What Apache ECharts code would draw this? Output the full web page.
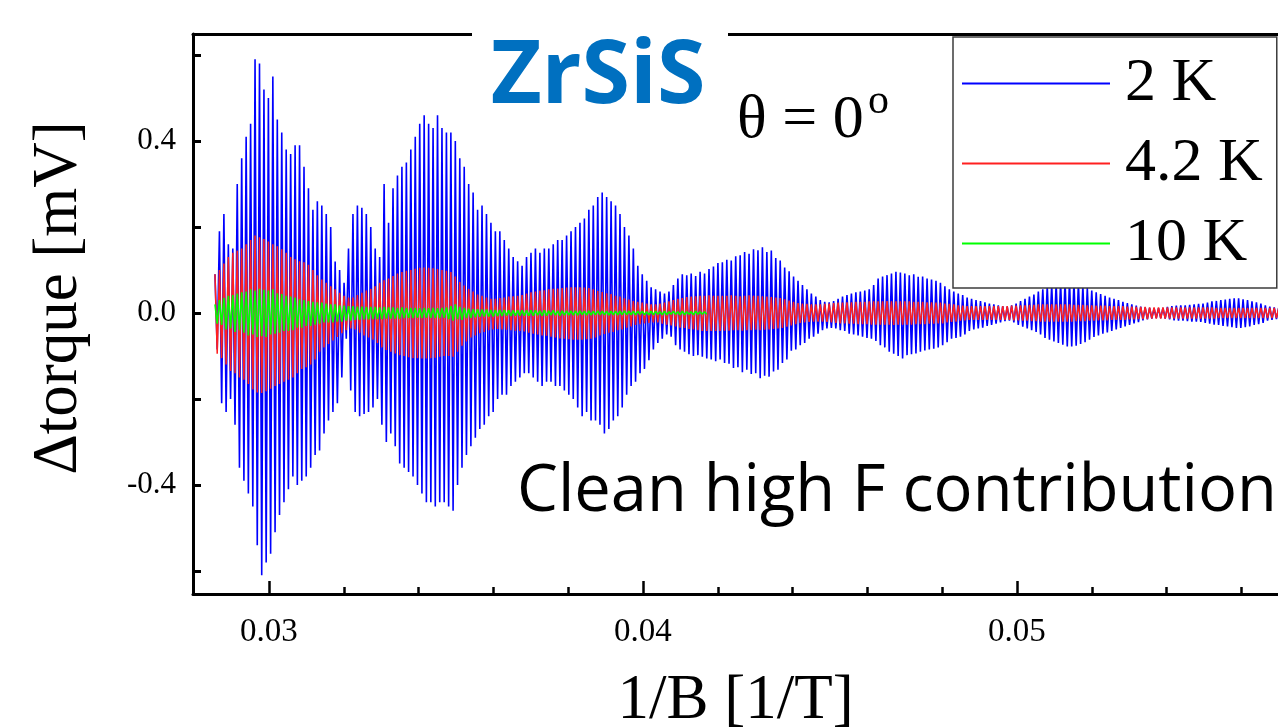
<!DOCTYPE html>
<html>
<head>
<meta charset="utf-8">
<script src="https://cdn.jsdelivr.net/npm/echarts@6/dist/echarts.min.js"></script>
<style>
html,body{margin:0;padding:0;background:#fff;}
#c{width:1278px;height:727px;}
</style>
</head>
<body>
<div id="c"></div>
<script>
// ---------------- DATA ----------------
const seriesNames = ['2 K', '4.2 K', '10 K'];
// successive extrema (max, min, max, min ...) of the oscillations, in µV,
// sampled on a uniform 1/B grid that starts at startInvB with spacing halfPeriodInvB
const startInvB = 0.028556;       // 1/B of first extremum [1/T]
const halfPeriodInvB = 0.0000595; // 1/B spacing between successive extrema [1/T]

const torque2K_uV = [
  90,-85, 190,-210, 230,-230, 160,-200, 150,-260, 300,-360, 360,-390, 410,-420, 440,-450, 590,-540,
  580,-610, 520,-580, 500,-560, 550,-510, 450,-470, 420,-440, 380,-410, 370,-380, 390,-400, 390,-390,
  340,-380, 290,-360, 240,-330, 260,-320, 250,-280, 230,-250, 200,-230, 120,-210, 100,-150, 70,-60,
  150,-180, 230,-230, 250,-240, 245,-235, 230,-230, 200,-220, 150,-200, 130,-260, 300,-300, 210,-280,
  290,-310, 320,-350, 340,-360, 350,-370, 380,-380, 410,-400, 440,-420, 460,-440, 440,-440, 430,-450,
  460,-440, 430,-440, 420,-450, 420,-460, 400,-400, 360,-360, 340,-330, 300,-310, 280,-290, 240,-270,
  250,-260, 230,-240, 210,-230, 190,-200, 190,-190, 170,-190, 150,-170, 130,-160, 120,-150, 110,-140,
  130,-140, 140,-150, 150,-160, 140,-170, 150,-160, 150,-160, 160,-170, 170,-170, 170,-180, 180,-190,
  190,-200, 200,-220, 210,-240, 220,-230, 240,-250, 250,-250, 270,-260, 280,-280, 270,-270, 260,-250,
  250,-240, 230,-220, 200,-190, 180,-170, 150,-160, 110,-140, 90,-130, 75,-110, 60,-85, 55,-70,
  50,-60, 45,-50, 50,-55, 65,-75, 80,-85, 90,-90, 88,-96, 92,-100, 86,-98, 96,-102,
  92,-106, 102,-108, 108,-112, 116,-108, 118,-116, 124,-118, 122,-128, 132,-126, 134,-138, 142,-132,
  138,-142, 148,-140, 146,-152, 153,-146, 142,-148, 145,-136, 128,-132, 122,-116, 106,-108, 97,-88,
  85,-85, 75,-75, 65,-70, 55,-60, 45,-55, 38,-48, 30,-40, 26,-36, 25,-35, 28,-36,
  33,-40, 38,-42, 42,-48, 45,-50, 48,-52, 50,-55, 52,-58, 55,-60, 65,-65, 80,-75,
  85,-80, 88,-90, 92,-95, 96,-100, 94,-106, 92,-98, 88,-96, 90,-94, 84,-90, 85,-87,
  80,-85, 78,-83, 75,-80, 70,-75, 62,-68, 55,-60, 50,-58, 45,-55, 42,-50, 36,-42,
  33,-38, 30,-36, 28,-34, 25,-30, 22,-28, 20,-25, 18,-22, 16,-19, 15,-18, 18,-22,
  22,-28, 28,-32, 33,-36, 38,-40, 43,-44, 50,-50, 55,-58, 62,-62, 66,-66, 70,-70,
  73,-74, 75,-78, 75,-78, 73,-76, 70,-72, 64,-68, 58,-62, 52,-56, 48,-52, 44,-48,
  40,-45, 36,-42, 33,-38, 30,-35, 26,-31, 23,-28, 20,-24, 17,-21, 15,-17, 13,-15,
  12,-13, 11,-12, 11,-12, 12,-13, 14,-15, 16,-17, 17,-18, 18,-18, 18,-19, 19,-20,
  20,-20, 21,-21, 22,-23, 24,-25, 27,-27, 28,-28, 30,-30, 31,-31, 33,-33, 34,-35,
  34,-35, 32,-33, 30,-31, 27,-28, 25,-26, 22,-23, 18,-18, 15,-16, 13,-14, 12,-13
];

const torque4K2_uV = [
  90,-95, 100,-105, 115,-120, 130,-135, 140,-140, 145,-150, 150,-155, 160,-165, 170,-178, 180,-185,
  176,-186, 172,-182, 166,-176, 160,-170, 155,-165, 148,-160, 140,-155, 130,-150, 125,-140, 120,-130,
  118,-126, 112,-120, 100,-108, 88,-90, 78,-80, 70,-72, 62,-64, 55,-56, 47,-47, 40,-40,
  36,-36, 36,-38, 42,-46, 47,-52, 52,-57, 56,-62, 62,-70, 70,-80, 76,-86, 80,-90,
  86,-94, 92,-98, 95,-100, 98,-103, 100,-105, 103,-105, 105,-106, 106,-106, 105,-105, 104,-104,
  102,-102, 100,-100, 98,-100, 95,-102, 85,-90, 72,-76, 64,-66, 56,-57, 50,-52, 43,-47,
  40,-44, 36,-40, 33,-38, 33,-37, 35,-38, 36,-39, 38,-40, 39,-41, 40,-42, 42,-43,
  45,-46, 48,-48, 50,-50, 52,-52, 53,-53, 55,-55, 56,-57, 57,-59, 58,-60, 59,-61,
  60,-62, 60,-62, 60,-62, 59,-61, 58,-60, 55,-57, 51,-52, 49,-49, 46,-46, 44,-44,
  40,-40, 38,-38, 34,-34, 31,-31, 28,-28, 26,-26, 24,-24, 22,-23, 20,-22, 20,-22,
  22,-25, 24,-27, 27,-29, 30,-31, 33,-34, 35,-35, 37,-37, 38,-38, 39,-40, 40,-42,
  40,-42, 41,-42, 40,-42, 40,-42, 40,-41, 40,-41, 41,-40, 40,-40, 39,-41, 40,-40,
  41,-40, 40,-39, 40,-40, 39,-39, 38,-38, 37,-37, 36,-36, 35,-35, 32,-32, 29,-29,
  26,-26, 23,-23, 22,-22, 21,-21, 20,-20, 20,-20, 20,-20, 21,-21, 22,-22, 23,-23,
  24,-24, 24,-24, 25,-25, 25,-25, 26,-26, 26,-26, 26,-26, 27,-27, 27,-27, 27,-27,
  27,-27, 28,-27, 27,-28, 27,-27, 27,-27, 27,-27, 27,-27, 26,-26, 26,-26, 26,-26,
  25,-25, 25,-25, 24,-24, 24,-24, 22,-22, 21,-21, 20,-20, 18,-18, 17,-17, 16,-16,
  16,-16, 16,-16, 16,-16, 16,-16, 16,-16, 16,-16, 16,-16, 16,-16, 16,-16, 17,-17,
  17,-17, 18,-18, 18,-18, 19,-19, 19,-19, 20,-20, 20,-20, 20,-20, 20,-20, 20,-20,
  20,-20, 20,-20, 20,-20, 19,-19, 19,-19, 19,-19, 18,-18, 18,-18, 17,-17, 17,-17,
  17,-17, 16,-16, 16,-16, 16,-16, 16,-16, 15,-15, 15,-15, 14,-14, 14,-14, 14,-14,
  13,-13, 13,-13, 13,-13, 13,-13, 13,-13, 13,-13, 13,-13, 13,-13, 13,-13, 13,-13,
  13,-13, 13,-13, 13,-13, 13,-13, 13,-13, 12,-12, 12,-12, 12,-12, 12,-12, 12,-12,
  12,-12, 12,-12, 12,-12, 12,-12, 12,-12, 12,-12, 12,-12, 12,-12, 12,-12, 12,-12
];

const torque10K_uV = [
  20,-25, 30,-28, 35,-38, 40,-36, 42,-44, 45,-40, 48,-46, 50,-52, 55,-50, 52,-56,
  56,-54, 54,-56, 52,-50, 55,-48, 46,-46, 44,-42, 40,-42, 38,-40, 36,-34, 32,-34,
  30,-30, 28,-30, 26,-27, 25,-25, 24,-22, 22,-22, 20,-22, 20,-20, 18,-20, 17,-18,
  16,-18, 16,-16, 15,-16, 15,-15, 14,-15, 14,-14, 14,-14, 13,-14, 14,-13, 13,-13,
  13,-13, 12,-13, 13,-12, 12,-12, 12,-12, 12,-11, 11,-12, 12,-11, 11,-11, 12,-12,
  11,-12, 12,-11, 13,-14, 16,-18, 20,-14, 14,-16, 12,-12, 10,-11, 9,-10, 9,-9,
  8,-8, 8,-8, 7,-8, 7,-7, 7,-7, 7,-6, 6,-7, 6,-6, 6,-6, 6,-6,
  6,-6, 6,-6, 6,-5, 5,-6, 6,-6, 5,-5, 6,-5, 5,-6, 5,-5, 5,-5,
  5,-5, 5,-5, 5,-4, 4,-5, 5,-5, 4,-4, 5,-4, 4,-4, 4,-5, 4,-4,
  4,-4, 4,-4, 5,-4, 4,-4, 4,-4, 4,-3, 4,-4, 3,-4, 4,-4, 4,-3,
  3,-4, 4,-4, 3,-3, 4,-3, 3,-4, 4,-4, 3,-3, 3,-4, 4,-3, 3,-3, 3,-3
];

const xMajorTicks = [0.03, 0.04, 0.05];
const xMinorTicks = [0.032, 0.034, 0.036, 0.038, 0.042, 0.044, 0.046, 0.048, 0.052, 0.054, 0.056];
const yTicks = [-0.6, -0.4, -0.2, 0, 0.2, 0.4, 0.6];
const yLabelValues = [-0.4, 0, 0.4];

// ---------------- CHART ----------------
const X_MIN = 0.027968, X_MAX = 0.056979;
const Y_MIN = -0.6535, Y_MAX = 0.6488;
const serif = '"Liberation Serif", "Times New Roman", serif';
const toPoints = arr => arr.map((v, k) => [startInvB + k * halfPeriodInvB, v / 1000]);

const chart = echarts.init(document.getElementById('c'), null, {renderer: 'canvas', width: 1278, height: 727});

const colors = ['#0000ff', '#ff2020', '#00ff00'];
const widths = [1.6, 1.5, 1.6];
const dataSets = [torque2K_uV, torque4K2_uV, torque10K_uV];

chart.setOption({
  animation: false,
  backgroundColor: '#ffffff',
  grid: {left: 193, right: 0, top: 34, bottom: 133, containLabel: false, outerBoundsMode: 'none'},
  xAxis: [
    {
      type: 'value', min: X_MIN, max: X_MAX, position: 'bottom',
      axisLine: {show: true, onZero: false, lineStyle: {color: '#000', width: 3}},
      axisTick: {show: true, inside: true, length: 13, customValues: xMajorTicks, lineStyle: {color: '#000', width: 2.5}},
      axisLabel: {show: true, customValues: xMajorTicks, formatter: v => v.toFixed(2),
                  fontFamily: serif, fontSize: 33, color: '#000', margin: 22},
      splitLine: {show: false},
      name: '1/B [1/T]', nameLocation: 'middle', nameGap: 76,
      nameTextStyle: {fontFamily: serif, fontSize: 63, color: '#000'}
    },
    {
      type: 'value', min: X_MIN, max: X_MAX, position: 'bottom',
      axisLine: {show: false, onZero: false},
      axisTick: {show: true, inside: true, length: 7, customValues: xMinorTicks, lineStyle: {color: '#000', width: 2.5}},
      axisLabel: {show: false}, splitLine: {show: false}
    },
    {
      type: 'value', min: X_MIN, max: X_MAX, position: 'top',
      axisLine: {show: true, onZero: false, lineStyle: {color: '#000', width: 3}},
      axisTick: {show: false}, axisLabel: {show: false}, splitLine: {show: false}
    }
  ],
  yAxis: {
    type: 'value', min: Y_MIN, max: Y_MAX,
    axisLine: {show: true, onZero: false, lineStyle: {color: '#000', width: 3}},
    axisTick: {show: true, inside: true, length: 8, customValues: yTicks, lineStyle: {color: '#000', width: 3}},
    axisLabel: {show: true, customValues: yLabelValues, formatter: v => v.toFixed(1),
                fontFamily: serif, fontSize: 31, color: '#000', margin: 17},
    splitLine: {show: false}
  },
  legend: {
    data: seriesNames, orient: 'vertical', left: 953, top: 37,
    padding: [15, 14, 13, 9],
    icon: 'rect', itemWidth: 148, itemHeight: 2, itemGap: 17,
    selectedMode: false,
    backgroundColor: '#ffffff', borderColor: '#3c3c3c', borderWidth: 1.5, borderRadius: 0,
    textStyle: {fontFamily: serif, fontSize: 62, lineHeight: 63, color: '#000', padding: [0, 0, 0, 10]},
    z: 20
  },
  series: seriesNames.map((name, i) => ({
    name: name, type: 'line', xAxisIndex: 0, yAxisIndex: 0,
    data: toPoints(dataSets[i]),
    symbol: 'none', showSymbol: false, silent: true, clip: true,
    lineStyle: {color: colors[i], width: widths[i]},
    itemStyle: {color: colors[i]},
    z: 2 + i
  })),
  graphic: [
    {type: 'rect', shape: {x: 472, y: 0, width: 256, height: 116}, style: {fill: '#ffffff'}, z: 100},
    {type: 'text', x: 598, y: 78, z: 101,
     style: {text: 'ZrSiS', font: 'bold 88px "Open Sans"', fill: '#0070c0', textAlign: 'center', textVerticalAlign: 'middle'}},
    {type: 'text', x: 737, y: 121, z: 101,
     style: {text: 'θ = 0', font: '62px "Liberation Serif"', fill: '#000', textAlign: 'left', textVerticalAlign: 'middle'}},
    {type: 'text', x: 868, y: 102, z: 101,
     style: {text: 'o', font: '42px "Liberation Serif"', fill: '#000', textAlign: 'left', textVerticalAlign: 'middle'}},
    {type: 'text', x: 517, y: 492, z: 101,
     style: {text: 'Clean high F contribution', font: '65px "Open Sans"', fill: '#000', textAlign: 'left', textVerticalAlign: 'middle'}},
    {type: 'text', x: 59, y: 298, rotation: Math.PI / 2, z: 101,
     style: {text: 'Δtorque [mV]', font: '63px "Liberation Serif"', fill: '#000', textAlign: 'center', textVerticalAlign: 'middle'}}
  ]
});
</script>
</body>
</html>
